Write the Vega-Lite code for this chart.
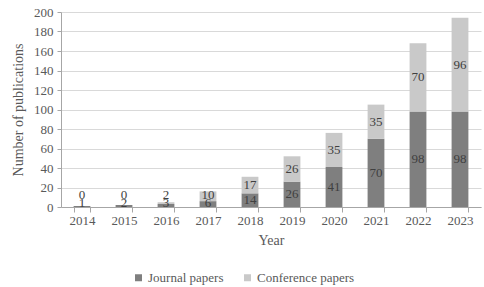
{
  "$schema": "https://vega.github.io/schema/vega-lite/v6.json",
  "width": 420,
  "height": 195,
  "autosize": {"type": "none"},
  "padding": {"left": 61, "top": 12, "right": 3, "bottom": 80},
  "config": {
    "font": "Liberation Serif",
    "view": {"stroke": null},
    "axis": {
      "labelFont": "Liberation Serif",
      "titleFont": "Liberation Serif",
      "labelFontSize": 13,
      "titleFontSize": 14,
      "titleFontWeight": "normal",
      "labelColor": "#595959",
      "titleColor": "#595959",
      "domainColor": "#a6a6a6",
      "tickColor": "#a6a6a6",
      "gridColor": "#d9d9d9"
    },
    "legend": {
      "labelFont": "Liberation Serif",
      "labelFontSize": 13,
      "labelColor": "#595959"
    }
  },
  "data": {
    "values": [
      {"year": "2014", "type": "Journal papers", "ord": 1, "count": 1},
      {"year": "2014", "type": "Conference papers", "ord": 2, "count": 0},
      {"year": "2015", "type": "Journal papers", "ord": 1, "count": 2},
      {"year": "2015", "type": "Conference papers", "ord": 2, "count": 0},
      {"year": "2016", "type": "Journal papers", "ord": 1, "count": 3},
      {"year": "2016", "type": "Conference papers", "ord": 2, "count": 2},
      {"year": "2017", "type": "Journal papers", "ord": 1, "count": 6},
      {"year": "2017", "type": "Conference papers", "ord": 2, "count": 10},
      {"year": "2018", "type": "Journal papers", "ord": 1, "count": 14},
      {"year": "2018", "type": "Conference papers", "ord": 2, "count": 17},
      {"year": "2019", "type": "Journal papers", "ord": 1, "count": 26},
      {"year": "2019", "type": "Conference papers", "ord": 2, "count": 26},
      {"year": "2020", "type": "Journal papers", "ord": 1, "count": 41},
      {"year": "2020", "type": "Conference papers", "ord": 2, "count": 35},
      {"year": "2021", "type": "Journal papers", "ord": 1, "count": 70},
      {"year": "2021", "type": "Conference papers", "ord": 2, "count": 35},
      {"year": "2022", "type": "Journal papers", "ord": 1, "count": 98},
      {"year": "2022", "type": "Conference papers", "ord": 2, "count": 70},
      {"year": "2023", "type": "Journal papers", "ord": 1, "count": 98},
      {"year": "2023", "type": "Conference papers", "ord": 2, "count": 96}
    ]
  },
  "transform": [
    {"stack": "count", "groupby": ["year"], "sort": [{"field": "ord", "order": "ascending"}], "as": ["y0", "y1"]},
    {"calculate": "datum.ord == 1 ? max((datum.y0 + datum.y1) / 2, 4) : max((datum.y0 + datum.y1) / 2, 12.5)", "as": "ly"}
  ],
  "encoding": {
    "x": {
      "field": "year",
      "type": "nominal",
      "scale": {"paddingInner": 0.6, "paddingOuter": 0.3},
      "axis": {
        "title": "Year",
        "labelAngle": 0,
        "tickBand": "extent",
        "tickSize": 5,
        "labelPadding": 2,
        "titlePadding": 6
      }
    }
  },
  "layer": [
    {
      "mark": {"type": "bar"},
      "encoding": {
        "y": {
          "field": "y0",
          "type": "quantitative",
          "scale": {"domain": [0, 200], "nice": false},
          "axis": {
            "title": "Number of publications",
            "values": [0, 20, 40, 60, 80, 100, 120, 140, 160, 180, 200],
            "tickSize": 4,
            "labelPadding": 4,
            "titlePadding": 8
          }
        },
        "y2": {"field": "y1"},
        "color": {
          "field": "type",
          "type": "nominal",
          "scale": {"domain": ["Journal papers", "Conference papers"], "range": ["#7f7f7f", "#c9c9c9"]},
          "legend": {
            "title": null,
            "orient": "none",
            "direction": "horizontal",
            "legendX": 71,
            "legendY": 259,
            "symbolType": "square",
            "symbolSize": 49,
            "symbolStrokeWidth": 0,
            "labelOffset": 3,
            "columnPadding": 17
          }
        }
      }
    },
    {
      "mark": {"type": "text", "fontSize": 13, "fill": "#404040", "baseline": "middle"},
      "encoding": {
        "y": {
          "field": "ly",
          "type": "quantitative",
          "scale": {"domain": [0, 200], "nice": false},
          "axis": {
            "title": "Number of publications",
            "values": [0, 20, 40, 60, 80, 100, 120, 140, 160, 180, 200],
            "tickSize": 4,
            "labelPadding": 4,
            "titlePadding": 8
          }
        },
        "text": {"field": "count", "type": "quantitative"}
      }
    }
  ]
}
